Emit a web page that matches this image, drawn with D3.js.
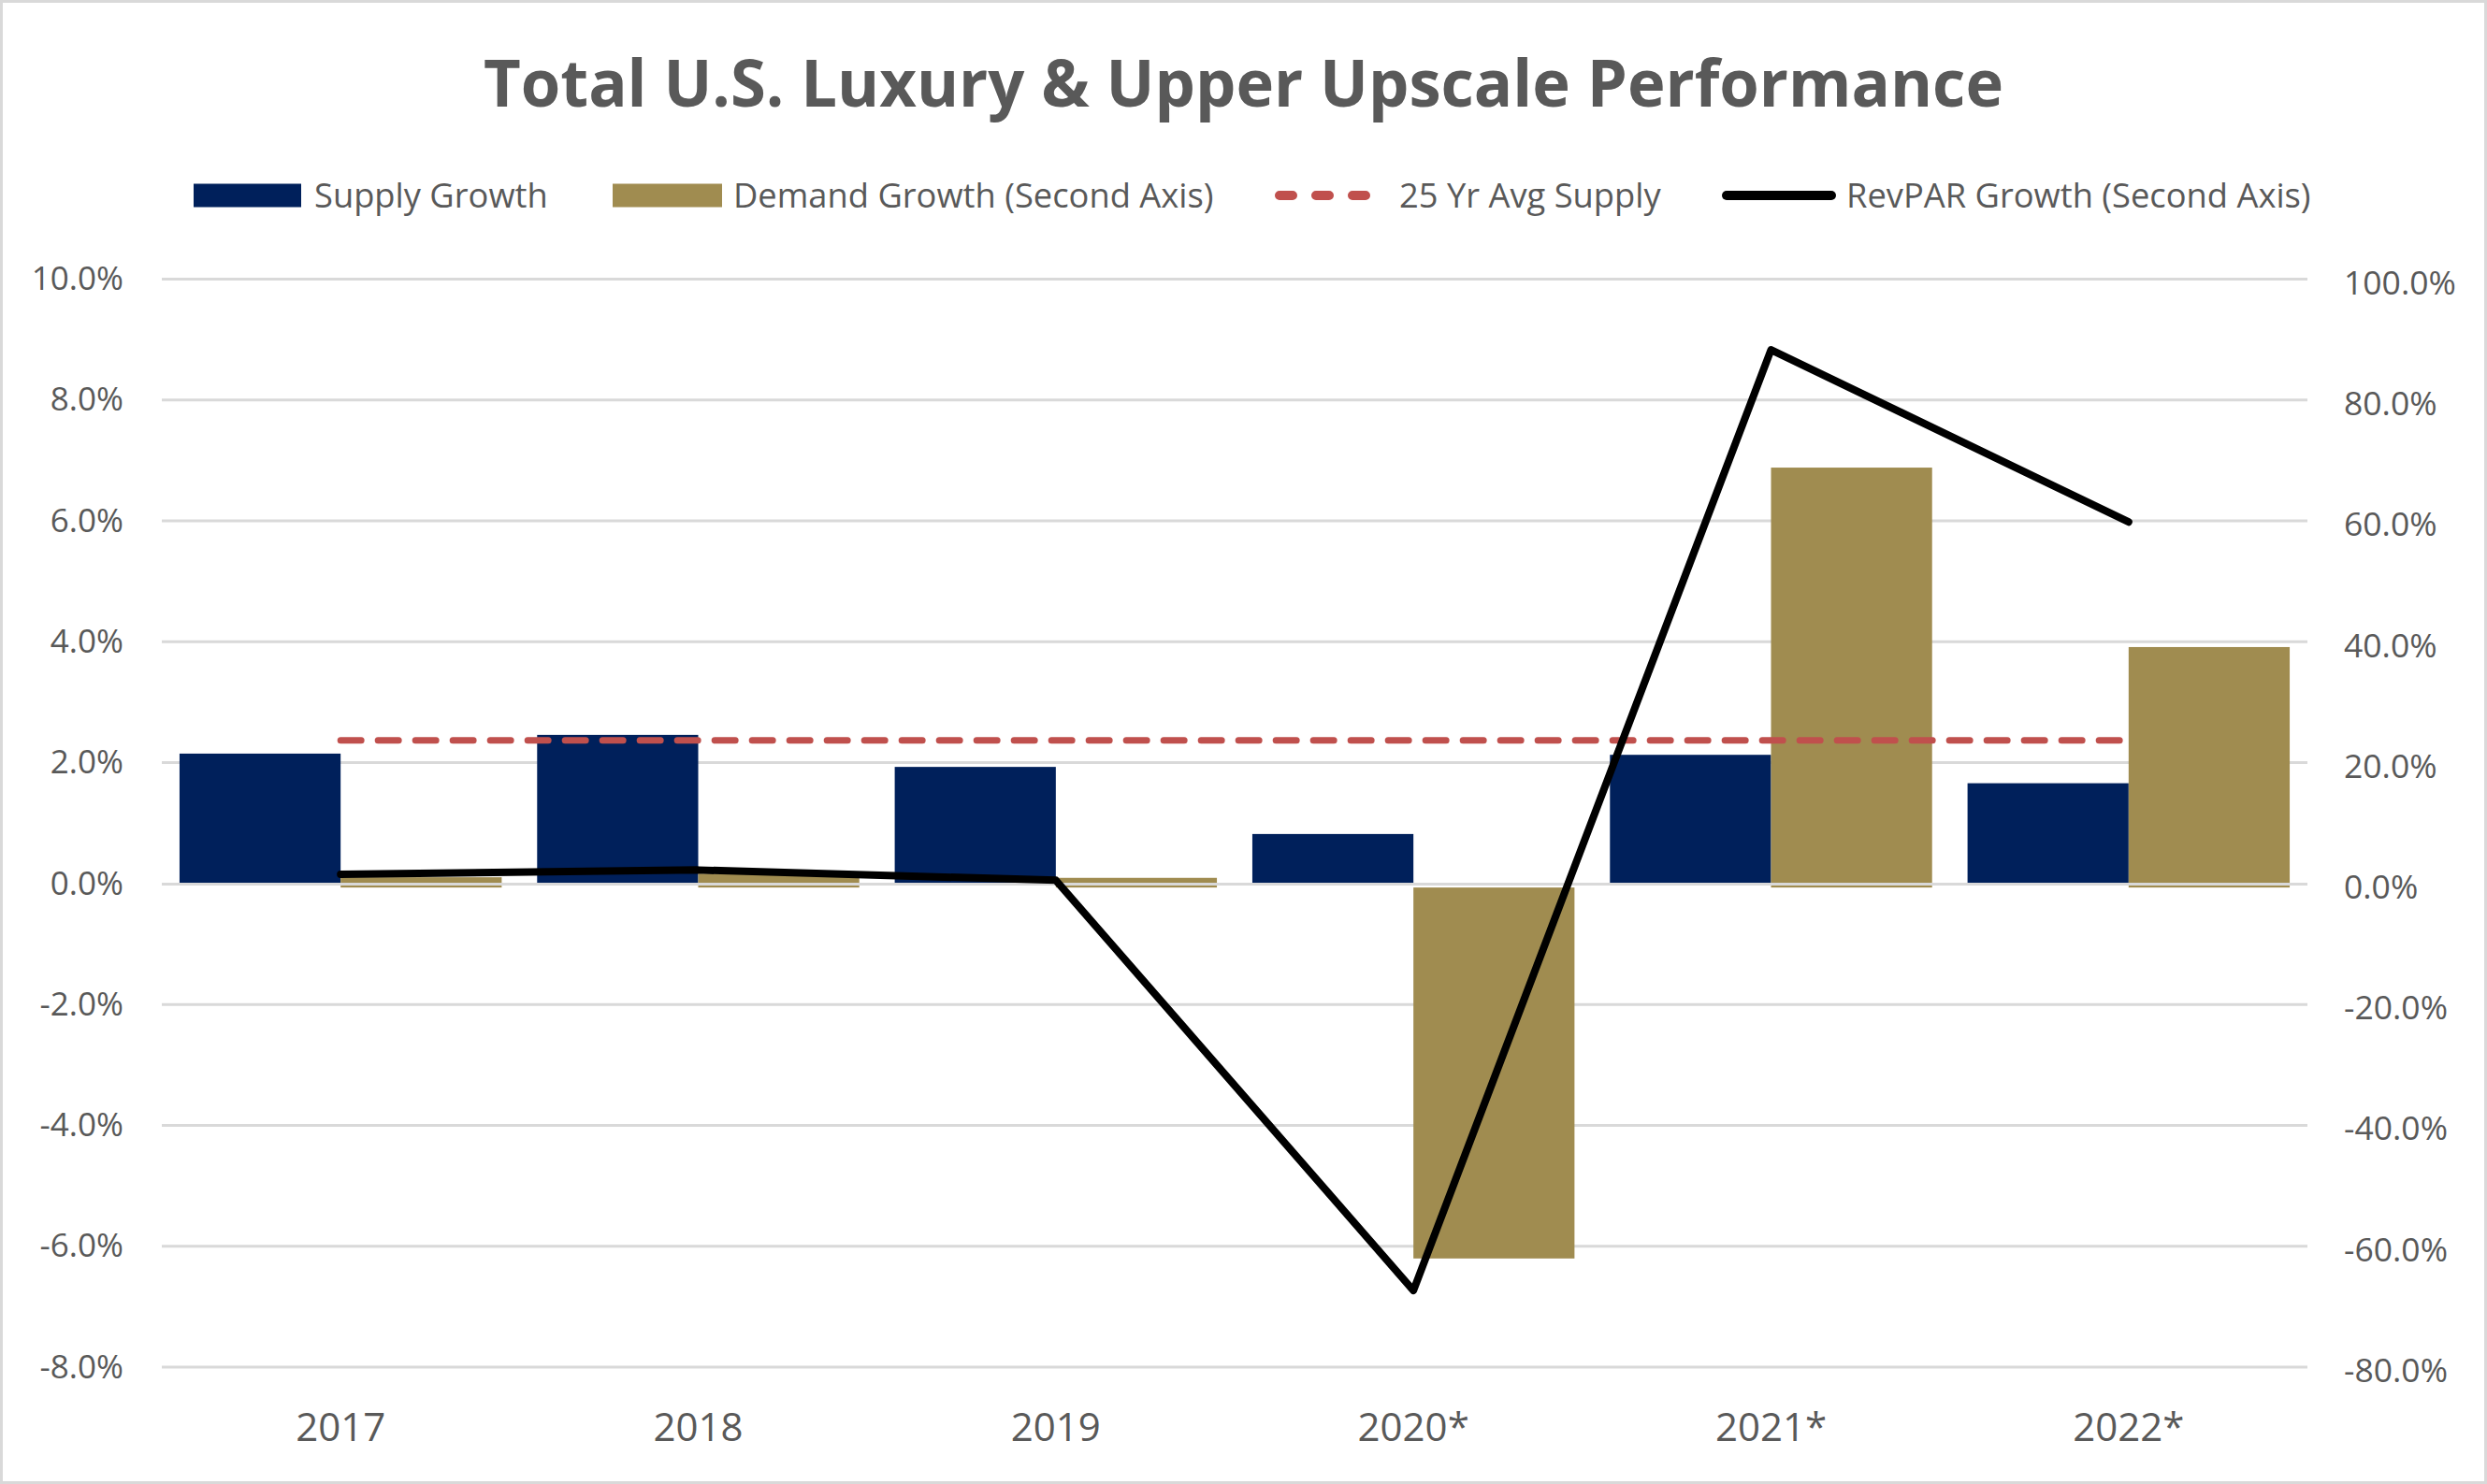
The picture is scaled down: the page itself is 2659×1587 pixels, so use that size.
<!DOCTYPE html>
<html>
<head>
<meta charset="utf-8">
<script src="https://cdn.jsdelivr.net/npm/d3@7"></script>
<style>
  html, body { margin: 0; padding: 0; background: #ffffff; }
  svg { display: block; }
</style>
</head>
<body>
<svg id="chart" width="2659" height="1587"></svg>
<script>
// ---------------- DATA ----------------
const categories = ['2017', '2018', '2019', '2020*', '2021*', '2022*'];
const supplyGrowth = [2.15, 2.46, 1.93, 0.82, 2.13, 1.66];          // % (left axis)
const demandGrowth = [1.7, 2.3, 1.6, -61.4, 69.5, 39.8];            // % (right axis)
const avgSupply25Yr = [2.37, 2.37, 2.37, 2.37, 2.37, 2.37];          // % (left axis)
const revparGrowth = [2.2, 2.9, 1.2, -66.7, 89.0, 60.5];             // % (right axis)
const leftTicks = [-8, -6, -4, -2, 0, 2, 4, 6, 8, 10];
const rightTicks = [-80, -60, -40, -20, 0, 20, 40, 60, 80, 100];
const titleText = 'Total U.S. Luxury & Upper Upscale Performance';
const legendLabels = ['Supply Growth', 'Demand Growth (Second Axis)', '25 Yr Avg Supply', 'RevPAR Growth (Second Axis)'];

// ---------------- STYLE ----------------
const NAVY = '#00205B', TAN = '#A08C50', RED = '#C0504D', BLACK = '#000000';
const GRID = '#D9D9D9', TEXT = '#595959';
const FONT = "'Open Sans', 'DejaVu Sans', sans-serif";

const svg = d3.select('#chart');
const W = 2659, H = 1587;
const plot = { left: 173, right: 2467, top: 298.5, bottom: 1462 };

// border
svg.append('rect').attr('x', 1.5).attr('y', 1.5).attr('width', W - 3).attr('height', H - 3)
  .attr('fill', '#fff').attr('stroke', GRID).attr('stroke-width', 3);

// scales
const x = d3.scaleBand().domain(categories).range([plot.left, plot.right]).padding(0);
const sub = d3.scaleBand().domain(['supply', 'demand']).range([0, x.bandwidth()])
  .paddingInner(0).paddingOuter(0.11);
const y1 = d3.scaleLinear().domain([-8, 10]).range([plot.bottom, plot.top]);
const y2 = d3.scaleLinear().domain([-80, 100]).range([plot.bottom + 4, plot.top + 4.5]);

// gridlines
svg.append('g').selectAll('line').data(leftTicks.filter(d => d !== 0)).join('line')
  .attr('x1', plot.left).attr('x2', plot.right)
  .attr('y1', d => y1(d)).attr('y2', d => y1(d))
  .attr('stroke', GRID).attr('stroke-width', 3);

// axes
const fmt = d => d.toFixed(1) + '%';
const gl = svg.append('g').attr('transform', `translate(${plot.left},0)`)
  .call(d3.axisLeft(y1).tickValues(leftTicks).tickFormat(fmt).tickSize(0).tickPadding(41));
gl.select('.domain').remove();
gl.selectAll('text').attr('font-family', FONT).attr('font-size', 35).attr('fill', TEXT);

const gr = svg.append('g').attr('transform', `translate(${plot.right},0)`)
  .call(d3.axisRight(y2).tickValues(rightTicks).tickFormat(fmt).tickSize(0).tickPadding(39));
gr.select('.domain').remove();
gr.selectAll('text').attr('font-family', FONT).attr('font-size', 35.5).attr('fill', TEXT);

const gb = svg.append('g').attr('transform', `translate(0,${plot.bottom})`)
  .call(d3.axisBottom(x).tickSize(0).tickPadding(49));
gb.select('.domain').remove();
gb.selectAll('text').attr('font-family', FONT).attr('font-size', 42).attr('fill', TEXT);

// bars: supply (left axis)
svg.append('g').selectAll('rect').data(supplyGrowth).join('rect')
  .attr('x', (d, i) => x(categories[i]) + sub('supply'))
  .attr('width', sub.bandwidth())
  .attr('y', d => Math.min(y1(d), y1(0)))
  .attr('height', d => Math.abs(y1(d) - y1(0)))
  .attr('fill', NAVY);

// bars: demand (right axis)
svg.append('g').selectAll('rect').data(demandGrowth).join('rect')
  .attr('x', (d, i) => x(categories[i]) + sub('demand'))
  .attr('width', sub.bandwidth())
  .attr('y', d => Math.min(y2(d), y2(0)))
  .attr('height', d => Math.abs(y2(d) - y2(0)))
  .attr('fill', TAN);

// zero line (category axis line) on top of bars
svg.append('line').attr('x1', plot.left).attr('x2', plot.right)
  .attr('y1', y1(0) + 0.5).attr('y2', y1(0) + 0.5)
  .attr('stroke', GRID).attr('stroke-width', 3);

const cx = c => x(c) + x.bandwidth() / 2;

// 25 yr avg supply dashed line
svg.append('path').datum(avgSupply25Yr)
  .attr('d', d3.line().x((d, i) => cx(categories[i])).y(d => y1(d)))
  .attr('fill', 'none').attr('stroke', RED).attr('stroke-width', 7)
  .attr('stroke-dasharray', '22 18').attr('stroke-linecap', 'round');

// RevPAR line
svg.append('path').datum(revparGrowth)
  .attr('d', d3.line().x((d, i) => cx(categories[i])).y(d => y2(d)))
  .attr('fill', 'none').attr('stroke', BLACK).attr('stroke-width', 8)
  .attr('stroke-linejoin', 'round').attr('stroke-linecap', 'round');

// title
const title = svg.append('text').attr('x', W / 2).attr('y', 114)
  .attr('text-anchor', 'middle').attr('font-family', FONT).attr('font-weight', 700)
  .attr('font-size', 70).attr('fill', TEXT).text(titleText);
const tw = title.node().getComputedTextLength();
if (tw > 1625) title.attr('textLength', 1625).attr('lengthAdjust', 'spacingAndGlyphs');

// legend
const legY = 209;
const leg = svg.append('g');
const legendSpec = [
  { type: 'rect', color: NAVY, x0: 207, x1: 322, tx: 336 },
  { type: 'rect', color: TAN, x0: 655, x1: 772, tx: 784 },
  { type: 'dash', color: RED, x0: 1368, x1: 1466, tx: 1496 },
  { type: 'line', color: BLACK, x0: 1846, x1: 1958, tx: 1974 }
];
legendSpec.forEach((s, i) => {
  if (s.type === 'rect') {
    leg.append('rect').attr('x', s.x0).attr('y', legY - 12.5).attr('width', s.x1 - s.x0).attr('height', 25).attr('fill', s.color);
  } else if (s.type === 'dash') {
    leg.append('line').attr('x1', s.x0).attr('x2', s.x1).attr('y1', legY).attr('y2', legY)
      .attr('stroke', s.color).attr('stroke-width', 10).attr('stroke-linecap', 'round')
      .attr('stroke-dasharray', '14 25');
  } else {
    leg.append('line').attr('x1', s.x0).attr('x2', s.x1).attr('y1', legY).attr('y2', legY)
      .attr('stroke', s.color).attr('stroke-width', 10).attr('stroke-linecap', 'round');
  }
  leg.append('text').attr('x', s.tx).attr('y', legY).attr('dy', '0.35em')
    .attr('font-family', FONT).attr('font-size', 36.3).attr('fill', TEXT).text(legendLabels[i]);
});
</script>
</body>
</html>
